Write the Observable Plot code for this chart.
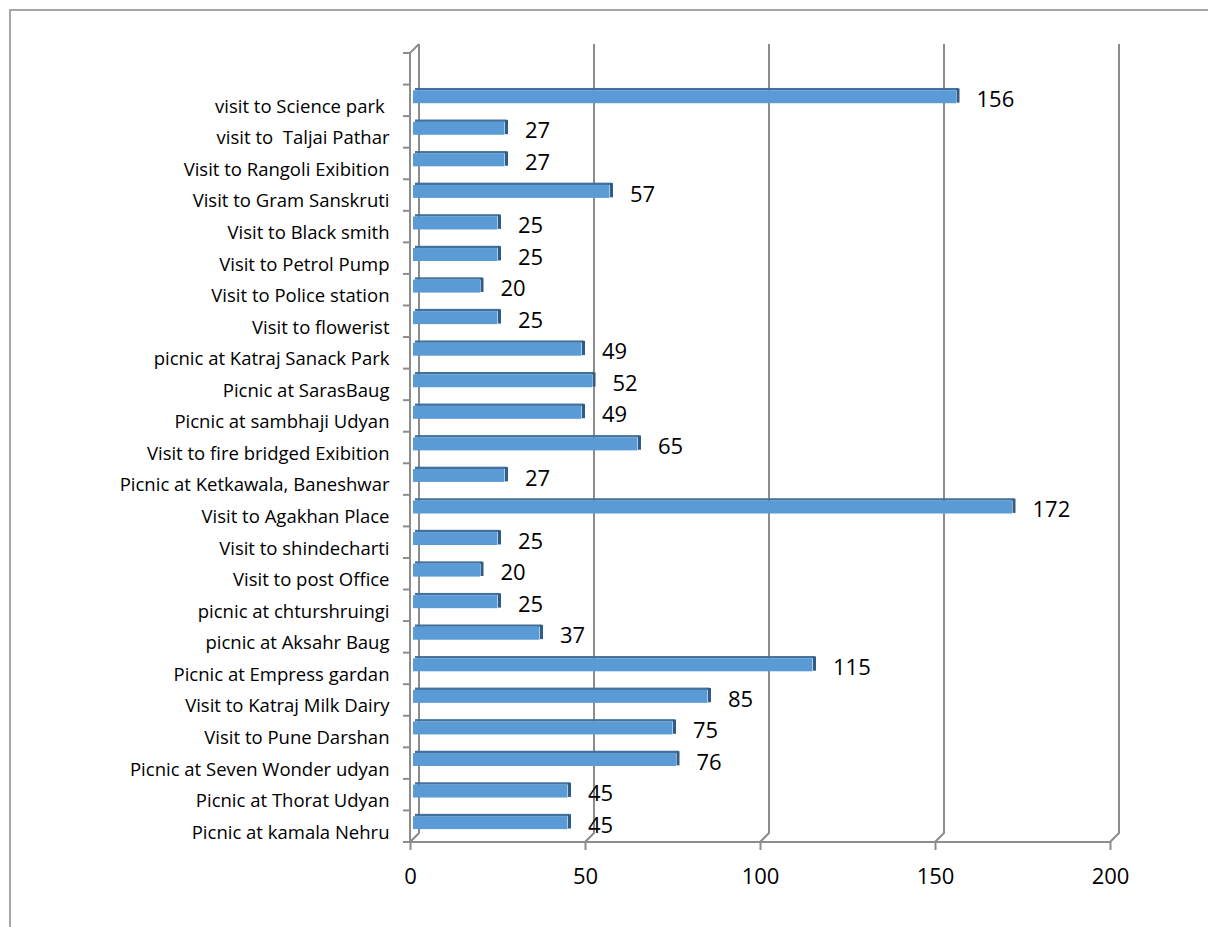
<!DOCTYPE html>
<html>
<head>
<meta charset="utf-8">
<script src="https://cdn.jsdelivr.net/npm/d3@7"></script>
<script src="https://cdn.jsdelivr.net/npm/@observablehq/plot@0.6"></script>
<style>
  html, body { margin: 0; padding: 0; background: #fff; width: 1208px; height: 927px; overflow: hidden; }
  #border { position: absolute; left: 9px; top: 9px; width: 1400px; height: 1200px;
            border-top: 2px solid #a6a6a6; border-left: 2px solid #a6a6a6; }
  #chart { position: absolute; left: 0; top: 0; }
  svg text { white-space: pre; }
</style>
</head>
<body>
<div id="border"></div>
<div id="chart"></div>
<script>
const categories = [
  "visit to Science park ",
  "visit to  Taljai Pathar",
  "Visit to Rangoli Exibition",
  "Visit to Gram Sanskruti",
  "Visit to Black smith",
  "Visit to Petrol Pump",
  "Visit to Police station",
  "Visit to flowerist",
  "picnic at Katraj Sanack Park",
  "Picnic at SarasBaug",
  "Picnic at sambhaji Udyan",
  "Visit to fire bridged Exibition",
  "Picnic at Ketkawala, Baneshwar",
  "Visit to Agakhan Place",
  "Visit to shindecharti",
  "Visit to post Office",
  "picnic at chturshruingi",
  "picnic at Aksahr Baug",
  "Picnic at Empress gardan",
  "Visit to Katraj Milk Dairy",
  "Visit to Pune Darshan",
  "Picnic at Seven Wonder udyan",
  "Picnic at Thorat Udyan",
  "Picnic at kamala Nehru"
];
const values = [156, 27, 27, 57, 25, 25, 20, 25, 49, 52, 49, 65, 27, 172, 25, 20, 25, 37, 115, 85, 75, 76, 45, 45];
const xTicks = [0, 50, 100, 150, 200];

const data = categories.map((c, i) => ({category: c, value: values[i]}));
const yDomain = ["", ...categories];

const DEPTH = 9;
const GRID = "#8c8c8c";

// 3D frame: back wall gridlines, floor diagonals, front axis lines and band ticks
function frameDecor(index, scales, values, dimensions) {
  const {x, y} = scales;
  const top = dimensions.marginTop;
  const bottom = dimensions.height - dimensions.marginBottom;
  const g = d3.create("svg:g")
    .attr("fill", "none")
    .attr("stroke", GRID)
    .attr("stroke-width", 2);
  for (const t of xTicks) {
    const px = x(t);
    g.append("path").attr("d",
      `M${px},${bottom}L${px + DEPTH},${bottom - DEPTH}L${px + DEPTH},${top - DEPTH}`);
  }
  g.append("path").attr("d", `M${x(0)},${top}L${x(0) + DEPTH},${top - DEPTH}`);
  g.append("path").attr("d", `M${x(0)},${top}L${x(0)},${bottom}L${x(200)},${bottom}`);
  const bounds = yDomain.map(d => y(d)).concat([bottom]);
  for (const b of bounds) {
    g.append("path").attr("d", `M${x(0) - 7},${b}L${x(0)},${b}`);
  }
  return g.node();
}

const chart = Plot.plot({
  width: 1208,
  height: 927,
  marginTop: 53,
  marginBottom: 85,
  marginLeft: 410,
  marginRight: 98,
  style: {fontFamily: "'Open Sans', sans-serif", background: "transparent", color: "#000"},
  x: {domain: [0, 200]},
  y: {type: "band", domain: yDomain, padding: 0, round: false},
  marks: [
    frameDecor,
    Plot.barX(data, {x: "value", y: "category", fill: "#41719c", insetTop: 3.4, insetBottom: 25.8, insetLeft: 3, dx: 2}),
    Plot.barX(data, {x: "value", y: "category", fill: "#5b9bd5", insetTop: 5.7, insetBottom: 12.9, insetLeft: 3}),
    Plot.tickX(data, {x: "value", y: "category", stroke: "#2f5d88", strokeWidth: 3, dx: 1.5, insetTop: 3.8, insetBottom: 13.5}),
    Plot.text(data, {x: "value", y: "category", text: d => String(d.value), textAnchor: "start", dx: 20, dy: -1, fontSize: 22, fill: "#000"}),
    Plot.axisX({ticks: xTicks, tickSize: 8, tickPadding: 18, fontSize: 22, label: null, stroke: GRID, strokeWidth: 2, fill: "#000"}),
    Plot.axisY({tickSize: 0, tickPadding: 21, fontSize: 18.5, label: null, fill: "#000", tickFormat: d => d, dy: 6})
  ]
});
document.getElementById("chart").appendChild(chart);
</script>
</body>
</html>
